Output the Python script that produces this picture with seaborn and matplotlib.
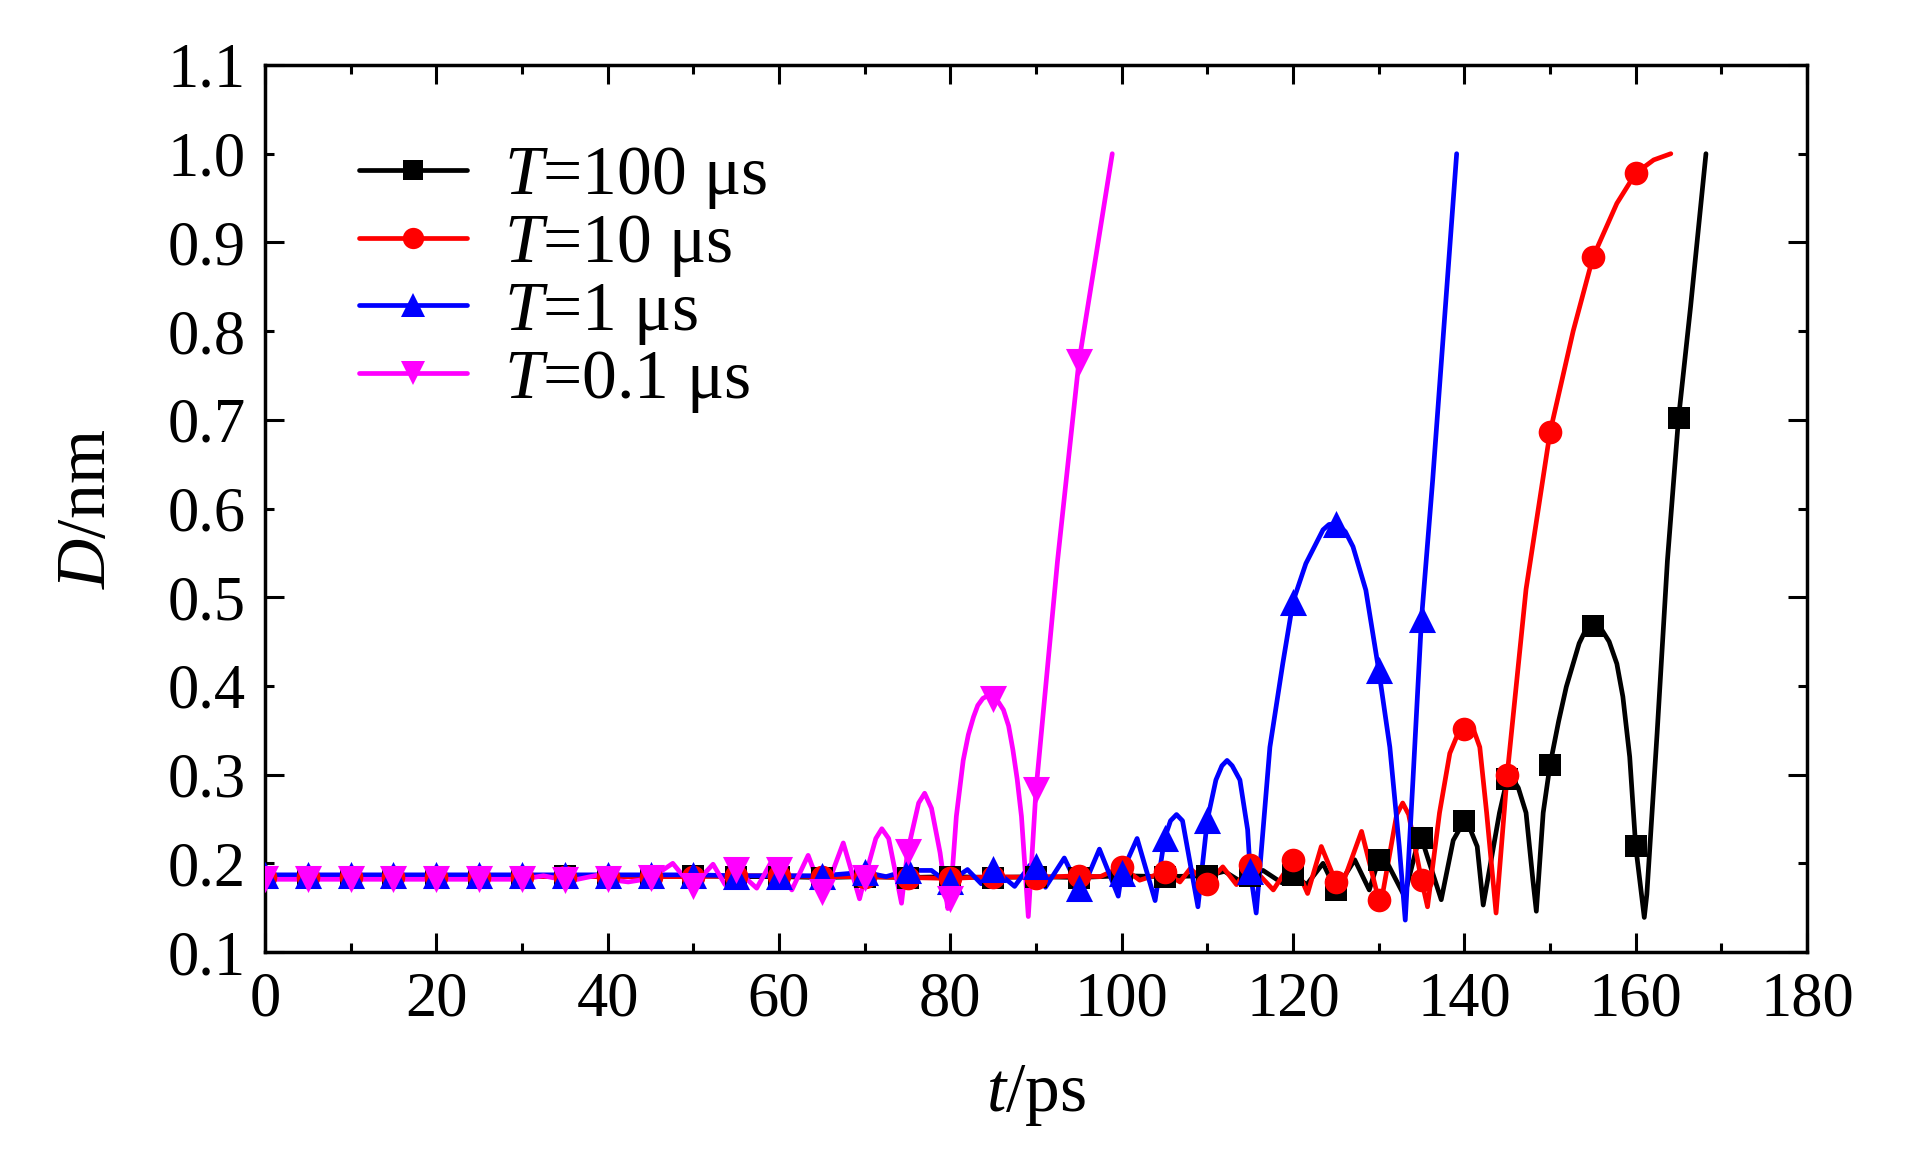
import numpy as np
import matplotlib
matplotlib.use("Agg")
import matplotlib.pyplot as plt
import seaborn as sns
from matplotlib.lines import Line2D
from matplotlib.ticker import MultipleLocator, FixedLocator, FormatStrFormatter

# ------------------------------------------------------------
# data  (t in ps, D in nm)
# markers sit every 5 ps, the extra points trace the curve between them
# ------------------------------------------------------------

black_mark_t = np.arange(0, 166, 5)
black_mark_d = [0.185, 0.185, 0.185, 0.185, 0.185, 0.185, 0.185, 0.186, 0.185, 0.185,
                0.186, 0.185, 0.185, 0.184, 0.185, 0.184, 0.185, 0.184, 0.185, 0.184,
                0.186, 0.185, 0.186, 0.186, 0.187, 0.170, 0.204, 0.228, 0.248, 0.295,
                0.311, 0.468, 0.219, 0.702]
black_extra_t = [112.0, 113.8, 116.5, 118.7, 121.6, 123.5, 127.2, 128.9, 130.6, 133.0,
                 134.8, 137.3, 138.7, 140.2, 141.5, 142.2, 144.1, 145.6, 146.3, 147.2,
                 148.0, 148.4, 149.2, 151.0, 151.9, 153.4, 154.3, 156.0, 156.9, 157.8,
                 158.5, 159.3, 161.0, 161.3, 162.5, 163.7, 166.4, 168.2]
black_extra_d = [0.191, 0.180, 0.192, 0.178, 0.176, 0.200, 0.204, 0.170, 0.208, 0.163,
                 0.232, 0.159, 0.226, 0.250, 0.219, 0.153, 0.257, 0.296, 0.285, 0.257,
                 0.181, 0.146, 0.257, 0.360, 0.399, 0.448, 0.466, 0.464, 0.450, 0.425,
                 0.388, 0.320, 0.139, 0.165, 0.347, 0.541, 0.827, 1.000]

red_mark_t = np.arange(0, 161, 5)
red_mark_d = [0.185, 0.185, 0.185, 0.185, 0.185, 0.185, 0.185, 0.185, 0.185, 0.185,
              0.185, 0.186, 0.186, 0.185, 0.185, 0.184, 0.183, 0.185, 0.184, 0.186,
              0.196, 0.190, 0.177, 0.198, 0.204, 0.179, 0.159, 0.181, 0.352, 0.300,
              0.686, 0.883, 0.978]
red_extra_t = [97.5, 102.1, 106.8, 108.0, 111.8, 113.4, 117.7, 121.7, 123.3, 125.6,
               128.0, 130.3, 132.1, 132.8, 133.5, 135.7, 137.1, 138.3, 139.2, 140.4,
               141.1, 141.8, 142.6, 143.7, 147.2, 152.7, 157.8, 162.1, 164.1]
red_extra_d = [0.185, 0.181, 0.179, 0.194, 0.196, 0.176, 0.170, 0.166, 0.219, 0.172,
               0.236, 0.157, 0.255, 0.268, 0.255, 0.151, 0.257, 0.324, 0.345, 0.355,
               0.350, 0.331, 0.257, 0.144, 0.509, 0.800, 0.944, 0.993, 1.000]

blue_mark_t = np.arange(0, 136, 5)
blue_mark_d = [0.187, 0.187, 0.187, 0.187, 0.187, 0.187, 0.187, 0.187, 0.187, 0.187,
               0.187, 0.186, 0.186, 0.186, 0.190, 0.192, 0.180, 0.194, 0.197, 0.172,
               0.189, 0.228, 0.249, 0.191, 0.495, 0.583, 0.418, 0.476]
blue_extra_t = [72.5, 77.8, 79.3, 82.0, 83.6, 87.5, 89.3, 91.1, 93.3, 95.3,
                97.4, 99.6, 101.8, 103.9, 105.7, 106.4, 107.1, 108.9, 111.0, 111.7,
                112.3, 112.9, 113.8, 114.7, 115.7, 117.3, 118.8, 121.5, 123.5, 124.2,
                126.1, 127.0, 128.5, 131.3, 132.4, 133.1, 134.0, 136.3, 139.1]
blue_extra_d = [0.185, 0.192, 0.181, 0.193, 0.177, 0.174, 0.198, 0.173, 0.206, 0.168,
                0.216, 0.163, 0.228, 0.158, 0.248, 0.255, 0.248, 0.151, 0.294, 0.310,
                0.316, 0.310, 0.294, 0.238, 0.144, 0.331, 0.425, 0.538, 0.576, 0.582,
                0.574, 0.557, 0.508, 0.331, 0.219, 0.136, 0.294, 0.632, 1.000]

mag_mark_t = np.arange(0, 96, 5)
mag_mark_d = [0.182, 0.182, 0.182, 0.182, 0.182, 0.182, 0.182, 0.181, 0.182, 0.183,
              0.175, 0.193, 0.192, 0.168, 0.183, 0.213, 0.160, 0.385, 0.283, 0.765]
mag_extra_t = [32.5, 36.0, 39.0, 42.4, 47.6, 49.8, 52.3, 53.7, 57.4, 59.0,
               61.5, 63.4, 65.3, 67.5, 69.4, 71.3, 72.0, 72.8, 74.3, 76.3,
               77.0, 77.8, 78.8, 79.7, 80.7, 81.5, 82.1, 82.7, 83.2, 83.8,
               84.6, 85.6, 86.2, 86.8, 87.3, 87.8, 88.3, 89.1, 92.5, 97.0,
               98.9]
mag_extra_d = [0.186, 0.181, 0.187, 0.179, 0.200, 0.174, 0.199, 0.176, 0.172, 0.200,
               0.170, 0.209, 0.166, 0.223, 0.160, 0.228, 0.239, 0.228, 0.155, 0.268,
               0.279, 0.262, 0.212, 0.149, 0.253, 0.316, 0.345, 0.365, 0.378, 0.386,
               0.390, 0.382, 0.373, 0.355, 0.328, 0.295, 0.253, 0.140, 0.540, 0.885,
               1.000]

labels = ["$T$=100 μs", "$T$=10 μs", "$T$=1 μs", "$T$=0.1 μs"]

x_ticks = [0, 20, 40, 60, 80, 100, 120, 140, 160, 180]
y_major = [0.1, 0.3, 0.5, 0.7, 0.9, 1.1]
y_minor = [0.2, 0.4, 0.6, 0.8, 1.0]


# ------------------------------------------------------------
# style
# ------------------------------------------------------------

sns.set_style("ticks")
plt.rcParams["font.family"] = ["Liberation Serif", "DejaVu Serif"]
plt.rcParams["mathtext.fontset"] = "custom"
plt.rcParams["mathtext.rm"] = "Liberation Serif"
plt.rcParams["mathtext.it"] = "Liberation Serif:italic"
plt.rcParams["text.color"] = "black"
plt.rcParams["axes.labelcolor"] = "black"

FS_TICK = 45
FS_TEXT = 50
LW = 3.4

series = [
    ("black", "s", 250, black_mark_t, black_mark_d, black_extra_t, black_extra_d),
    ("#ff0000", "o", 290, red_mark_t, red_mark_d, red_extra_t, red_extra_d),
    ("#0000ff", "^", 380, blue_mark_t, blue_mark_d, blue_extra_t, blue_extra_d),
    ("#ff00ff", "v", 380, mag_mark_t, mag_mark_d, mag_extra_t, mag_extra_d),
]

fig = plt.figure(figsize=(19.23, 11.69), dpi=100)
ax = fig.add_axes([0.1378, 0.1856, 0.8019, 0.7588])

handles = []
for color, marker, size, mt, md, et, ed in series:
    line_t = np.concatenate([mt, et])
    line_d = np.concatenate([md, ed])
    order = np.argsort(line_t)
    sns.lineplot(x=line_t[order], y=line_d[order], color=color, linewidth=LW,
                 estimator=None, sort=False, ax=ax)
    sns.scatterplot(x=mt, y=md, color=color, marker=marker, s=size,
                    linewidth=0, ax=ax, zorder=3)
    handles.append(Line2D([], [], color=color, linewidth=LW, marker=marker,
                          markersize=np.sqrt(size) * 0.9, markeredgewidth=0))

ax.set_xlim(0, 180)
ax.set_ylim(0.1, 1.1)

ax.xaxis.set_major_locator(FixedLocator(x_ticks))
ax.xaxis.set_minor_locator(MultipleLocator(10))
ax.yaxis.set_major_locator(FixedLocator(y_major))
ax.yaxis.set_minor_locator(FixedLocator(y_minor))
ax.yaxis.set_major_formatter(FormatStrFormatter("%.1f"))
ax.yaxis.set_minor_formatter(FormatStrFormatter("%.1f"))

ax.tick_params(which="both", direction="in", top=True, right=True,
               labelsize=FS_TICK, width=2.2, pad=14, colors="black")
ax.tick_params(which="major", length=13.5)
ax.tick_params(which="minor", length=6.5)

for sp in ax.spines.values():
    sp.set_linewidth(2.5)
    sp.set_color("black")

ax.set_xlabel("$t$/ps", fontsize=FS_TEXT, labelpad=24)
ax.set_ylabel("$D$/nm", fontsize=FS_TEXT, labelpad=34)

ax.legend(handles, labels, loc="upper left", bbox_to_anchor=(0.061, 0.91),
          frameon=False, fontsize=FS_TEXT, handlelength=1.56, handletextpad=0.53,
          labelspacing=0.03, borderpad=0, borderaxespad=0)

fig.savefig("out.png", dpi=100)
